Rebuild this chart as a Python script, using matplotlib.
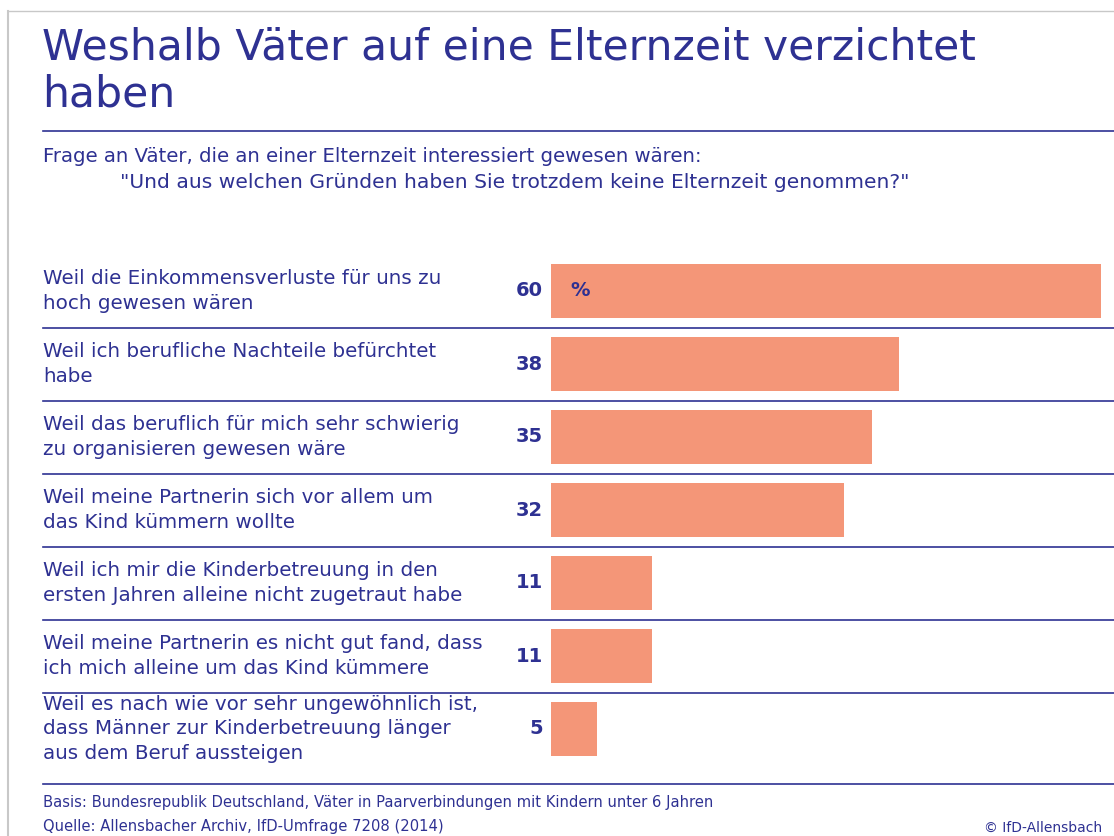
import matplotlib.pyplot as plt
import matplotlib.transforms as mtransforms
from matplotlib.lines import Line2D

W, H = 1114, 836
NAVY = "#2e3192"
SALMON = "#f49678"

labels = [
    "Weil die Einkommensverluste für uns zu\nhoch gewesen wären",
    "Weil ich berufliche Nachteile befürchtet\nhabe",
    "Weil das beruflich für mich sehr schwierig\nzu organisieren gewesen wäre",
    "Weil meine Partnerin sich vor allem um\ndas Kind kümmern wollte",
    "Weil ich mir die Kinderbetreuung in den\nersten Jahren alleine nicht zugetraut habe",
    "Weil meine Partnerin es nicht gut fand, dass\nich mich alleine um das Kind kümmere",
    "Weil es nach wie vor sehr ungewöhnlich ist,\ndass Männer zur Kinderbetreuung länger\naus dem Beruf aussteigen",
]
values = [60, 38, 35, 32, 11, 11, 5]

title = "Weshalb Väter auf eine Elternzeit verzichtet\nhaben"
question = "Frage an Väter, die an einer Elternzeit interessiert gewesen wären:"
quote = "\"Und aus welchen Gründen haben Sie trotzdem keine Elternzeit genommen?\""
basis = "Basis: Bundesrepublik Deutschland, Väter in Paarverbindungen mit Kindern unter 6 Jahren"
source = "Quelle: Allensbacher Archiv, IfD-Umfrage 7208 (2014)"
copyright_txt = "© IfD-Allensbach"

plt.rcParams["font.family"] = ["DejaVu Sans"]

fig = plt.figure(figsize=(W / 100, H / 100), dpi=100)
fig.patch.set_facecolor("white")


def fx(px):
    return px / W


def fy(py):
    return 1 - py / H


# light grey frame on the left / top
fig.add_artist(Line2D([fx(8), fx(8)], [fy(11), 0], color="#c8c8c8", lw=1.5))
fig.add_artist(Line2D([fx(8), 1], [fy(11), fy(11)], color="#c8c8c8", lw=1.0))

# title block
fig.text(fx(42), fy(27), title, color=NAVY, fontsize=30.6, va="top", ha="left",
         linespacing=1.13)
fig.add_artist(Line2D([fx(43), 1], [fy(131), fy(131)], color=NAVY, lw=1.2))
fig.text(fx(43), fy(157), question, color=NAVY, fontsize=14.2, va="center")
fig.text(fx(120), fy(183), quote, color=NAVY, fontsize=14.6, va="center")

# bar axes: value 0 at x=551px, ~9.16 px per percent
x0, x1 = 551, W
scale = 9.16
ax = fig.add_axes([fx(x0), fy(783.75), fx(x1 - x0), (783.75 - 254.5) / H])
ax.set_xlim(0, (x1 - x0) / scale)
ax.set_ylim(6.75, -0.5)
ax.axis("off")

ypos = list(range(len(values)))
ax.barh(ypos, values, height=0.73, color=SALMON, left=0)

trans = mtransforms.blended_transform_factory(fig.transFigure, ax.transData)
for y, lab, v in zip(ypos, labels, values):
    ax.text(fx(43), y, lab, transform=trans, ha="left", va="center",
            color=NAVY, fontsize=14.3, linespacing=1.36)
    ax.text(fx(543), y, str(v), transform=trans, ha="right", va="center",
            color=NAVY, fontsize=14, fontweight="bold")
ax.text(fx(570), 0, "%", transform=trans, ha="left", va="center",
        color=NAVY, fontsize=14, fontweight="bold")

# separators
xmin = (43 - x0) / (x1 - x0)
for s in [0.5, 1.5, 2.5, 3.5, 4.5, 5.5, 6.75]:
    ax.axhline(s, xmin=xmin, xmax=1, color=NAVY, lw=1.2, clip_on=False)

# footer
fig.text(fx(43), fy(803), basis, color=NAVY, fontsize=10.6, va="center")
fig.text(fx(43), fy(826), source, color=NAVY, fontsize=10.6, va="center")
fig.text(fx(1102), fy(828), copyright_txt, color=NAVY, fontsize=10,
         va="center", ha="right")

fig.savefig("out.png", dpi=100)
